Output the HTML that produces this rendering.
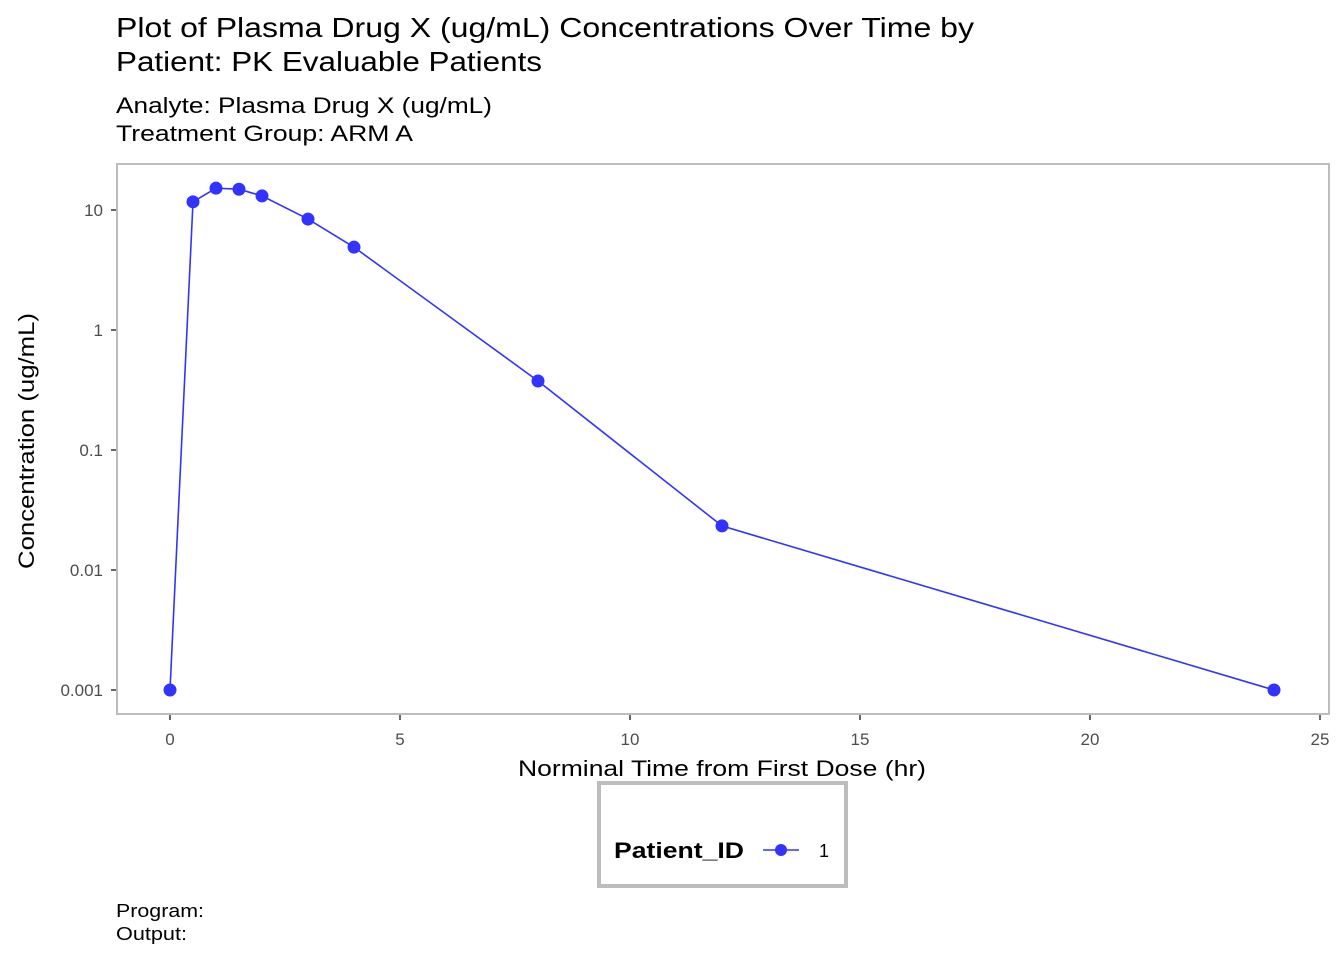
<!DOCTYPE html>
<html><head><meta charset="utf-8"><style>
body{margin:0;background:#fff;font-family:"Liberation Sans",Arial,sans-serif;}
svg text{font-family:"Liberation Sans",Arial,sans-serif;}
</style></head><body>
<svg id="chart" width="1344" height="960" viewBox="0 0 1344 960">
<text x="116" y="37" font-size="28" textLength="858" lengthAdjust="spacingAndGlyphs" fill="#000">Plot of Plasma Drug X (ug/mL) Concentrations Over Time by</text>
<text x="116" y="71" font-size="28" textLength="426" lengthAdjust="spacingAndGlyphs" fill="#000">Patient: PK Evaluable Patients</text>
<text x="116" y="113" font-size="22" textLength="376" lengthAdjust="spacingAndGlyphs" fill="#000">Analyte: Plasma Drug X (ug/mL)</text>
<text x="116" y="141" font-size="22" textLength="297" lengthAdjust="spacingAndGlyphs" fill="#000">Treatment Group: ARM A</text>
<rect x="117" y="164" width="1212" height="550" fill="none" stroke="#bdbdbd" stroke-width="2"/>
<g id="xaxis"></g><g id="yaxis"></g><g id="series"></g>
<text x="722" y="776" font-size="22" text-anchor="middle" textLength="408" lengthAdjust="spacingAndGlyphs">Norminal Time from First Dose (hr)</text>
<text transform="translate(34,441) rotate(-90)" font-size="22" text-anchor="middle" textLength="256" lengthAdjust="spacingAndGlyphs">Concentration (ug/mL)</text>
<g>
<rect x="599" y="783" width="247" height="103" fill="#fff" stroke="#bdbdbd" stroke-width="4"/>
<text x="614" y="858" font-size="22" font-weight="bold" textLength="130" lengthAdjust="spacingAndGlyphs">Patient_ID</text>
<line x1="763" y1="850" x2="799" y2="850" stroke="#3333ff" stroke-width="1.5"/>
<circle cx="781" cy="850" r="6" fill="#3333ff"/>
<text x="819" y="857" font-size="18">1</text>
</g>
<text x="116" y="917" font-size="18" textLength="88" lengthAdjust="spacingAndGlyphs">Program:</text>
<text x="116" y="940" font-size="18" textLength="71" lengthAdjust="spacingAndGlyphs">Output:</text>
</svg>
<script>
const times=[0,0.5,1,1.5,2,3,4,8,12,24];
const concs=[0.001,11.7,15.2,14.9,13.1,8.4,4.9,0.376,0.0233,0.001];
const xTicks=[0,5,10,15,20,25];
const yTicks=[0.001,0.01,0.1,1,10];
const yTickLabels=["0.001","0.01","0.1","1","10"];
const NS="http://www.w3.org/2000/svg";
function xs(v){return 170+v*46;}
function ys(v){return 330-Math.log10(v)*120;}
function mk(tag,attrs,parent,txt){const e=document.createElementNS(NS,tag);for(const k in attrs)e.setAttribute(k,attrs[k]);if(txt!==undefined)e.textContent=txt;parent.appendChild(e);return e;}
const xa=document.getElementById('xaxis'),ya=document.getElementById('yaxis'),sg=document.getElementById('series');
xTicks.forEach(t=>{
 const l=mk('line',{x1:xs(t),x2:xs(t),y1:715,y2:720,stroke:'#333','stroke-width':1.5},xa);
 
 
 const tx=mk('text',{x:xs(t),y:745,'font-size':17,fill:'#4d4d4d','text-anchor':'middle'},xa,String(t));
 
 
});
yTicks.forEach((t,i)=>{
 const l=mk('line',{x1:111,x2:116,y1:ys(t),y2:ys(t),stroke:'#333','stroke-width':1.5},ya);
 
 
 const tx=mk('text',{x:103,y:ys(t)+6,'font-size':17,fill:'#4d4d4d','text-anchor':'end'},ya,yTickLabels[i]);
 
 
});
const pts=times.map((t,i)=>xs(t)+','+ys(concs[i])).join(' ');
const pl=mk('polyline',{points:pts,fill:'none',stroke:'#3333ff','stroke-width':1.6},sg);


times.forEach((t,i)=>{
 const c=mk('circle',{cx:xs(t),cy:ys(concs[i]),r:6.5,fill:'#3333ff'},sg);
 
 
});
</script>
</body></html>
